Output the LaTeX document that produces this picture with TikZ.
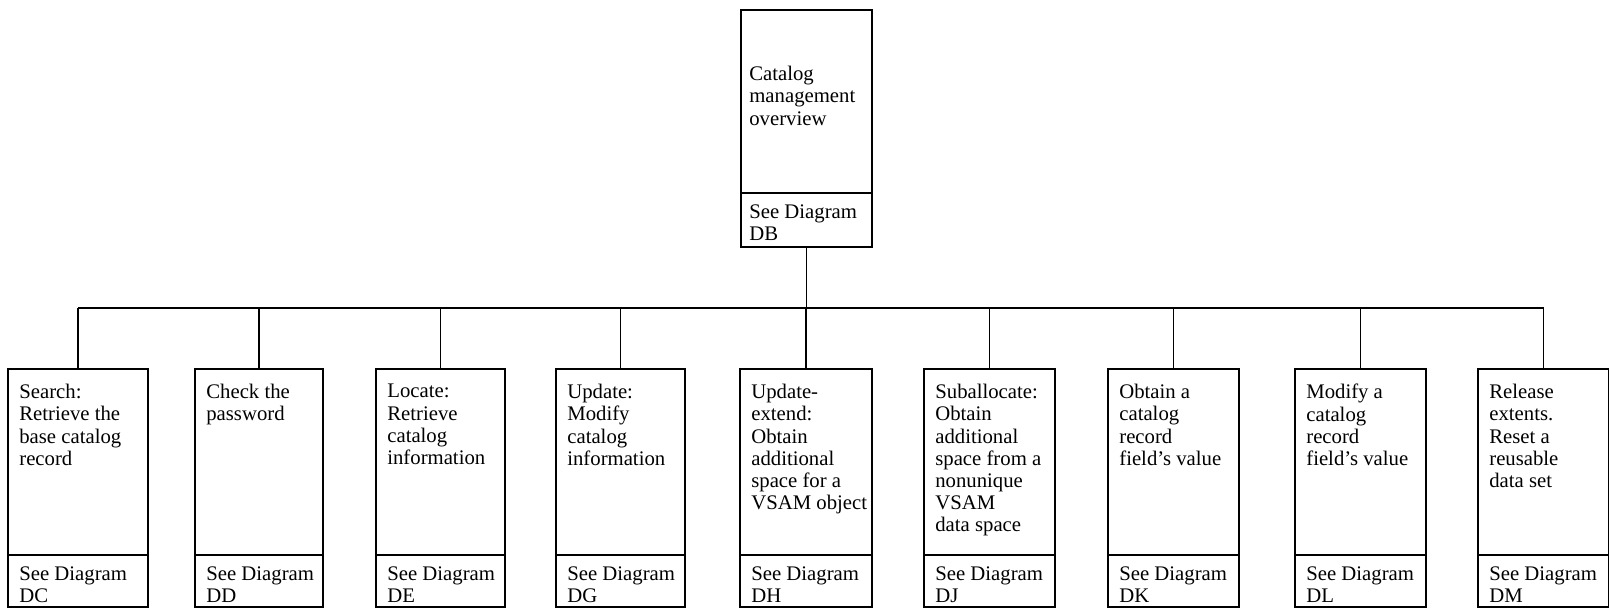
\documentclass[tikz,border=0pt]{standalone}
\usepackage{fontspec}
\setmainfont{Liberation Serif}
\usetikzlibrary{calc}

\begin{document}
\begin{tikzpicture}[x=0.02cm,y=-0.02cm,
	frame/.style={draw, line width=1.4pt, rectangle, outer sep=0pt, inner sep=0pt, anchor=north west},
	txt/.style={inner sep=0pt, anchor=north west, align=left, font=\fontsize{11.8}{12.6}\selectfont},
	wire/.style={line width=1pt}]
\useasboundingbox (0,0) rectangle (1609,608);
% overview box
\node[frame, minimum width=131*0.02cm, minimum height=183*0.02cm] (top) at (741,10) {};
\node[frame, minimum width=131*0.02cm, minimum height=54*0.02cm] (topref) at (top.south west) {};
\node[txt] (toptxt) at ($(top.north west)+(8,56)$) {Catalog\\management\\overview};
\node[txt] (topdg) at ($(topref.north west)+(8,11)$) {See Diagram\\DB};
% second level
\foreach \x/\w/\txt/\dg [count=\i] in {
	8/140/{Search:\\Retrieve the\\base catalog\\record}/DC,
	195/128/{Check the\\password}/DD,
	376/129/{Locate:\\Retrieve\\catalog\\information}/DE,
	556/129/{Update:\\Modify\\catalog\\information}/DG,
	740/132/{Update-\\extend:\\Obtain\\additional\\space for a\\VSAM object}/DH,
	924/131/{Suballocate:\\Obtain\\additional\\space from a\\nonunique\\VSAM\\data space}/DJ,
	1108/131/{Obtain a\\catalog\\record\\field’s value}/DK,
	1295/131/{Modify a\\catalog\\record\\field’s value}/DL,
	1478/131/{Release\\extents.\\Reset a\\reusable\\data set}/DM}{
	\node[frame, minimum width=\w*0.02cm, minimum height=186*0.02cm] (c\i) at (\x,369) {};
	\node[frame, minimum width=\w*0.02cm, minimum height=52*0.02cm] (r\i) at (c\i.south west) {};
	\node[txt] (t\i) at ($(c\i.north west)+(11,15)$) {\txt};
	\node[txt] (d\i) at ($(r\i.north west)+(11,11)$) {See Diagram\\\dg};
	}
% connecting lines
\coordinate (bus) at (0,308);
\draw[wire] (topref.south) -- (topref.south |- bus);
\draw[wire] (c1.north |- bus) -- (c9.north |- bus);
\foreach \i in {1,...,9}{
	\draw[wire] (c\i.north |- bus) -- (c\i.north);
	}
\end{tikzpicture}
\end{document}
